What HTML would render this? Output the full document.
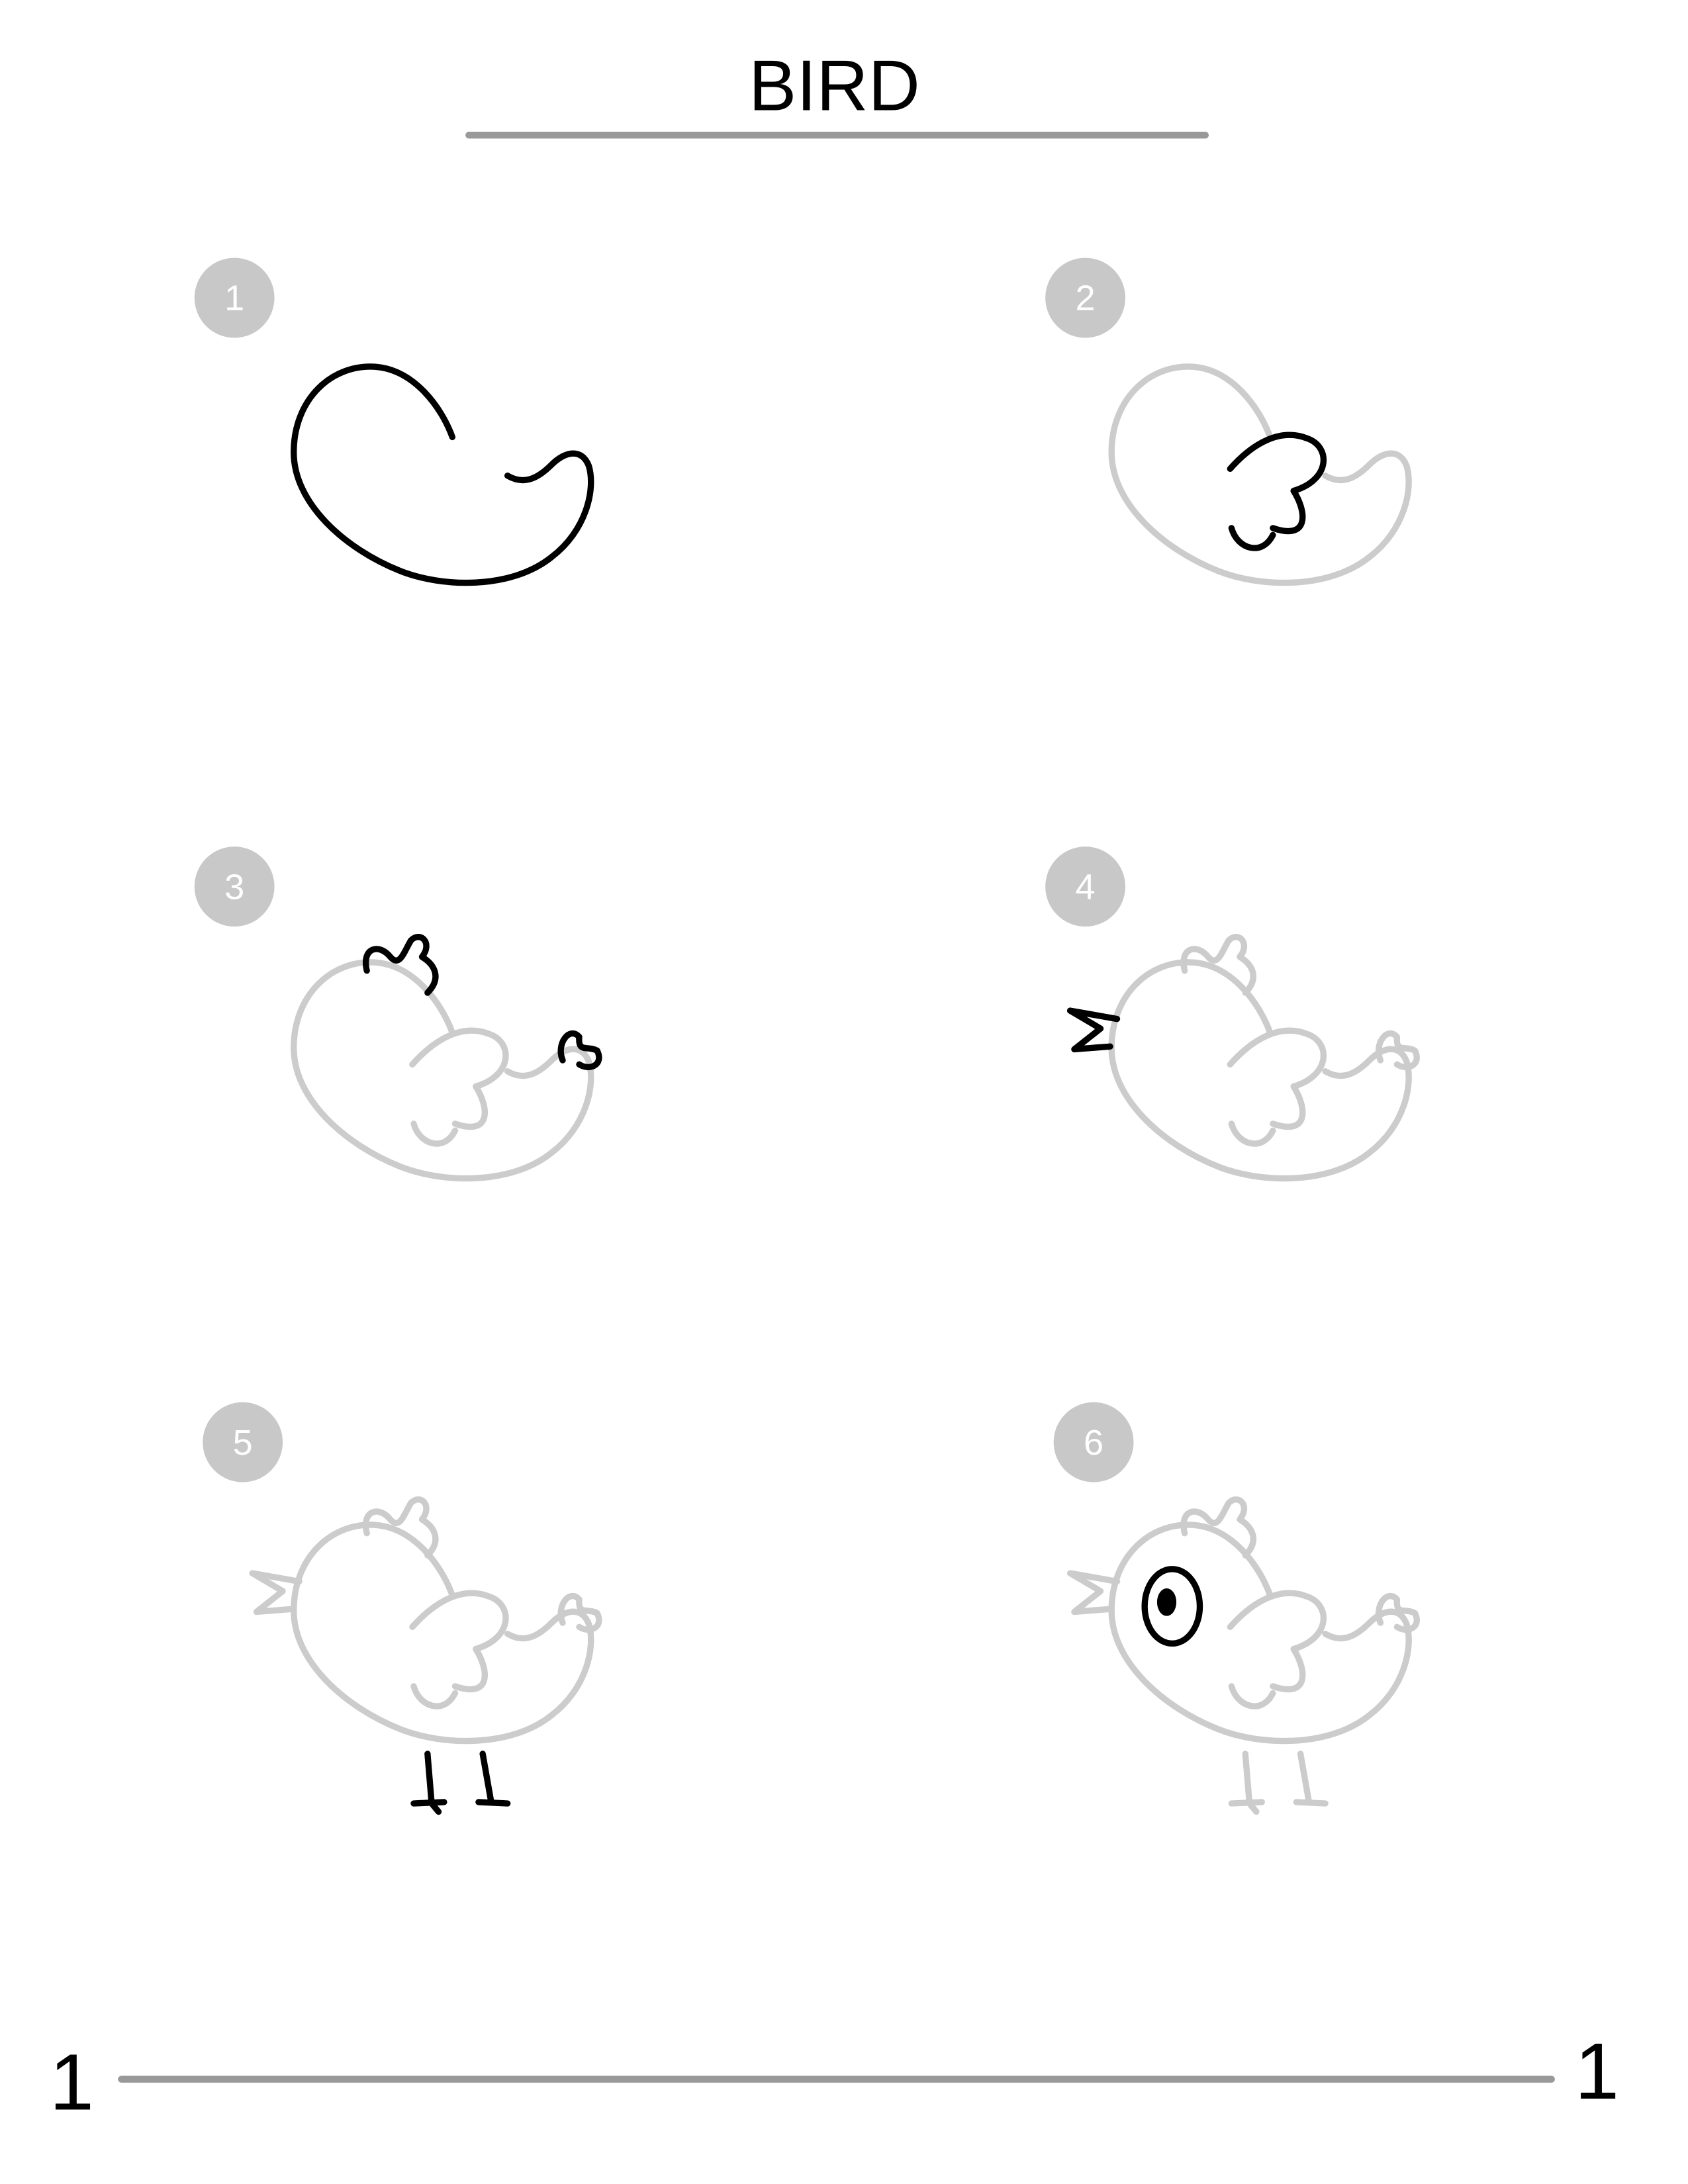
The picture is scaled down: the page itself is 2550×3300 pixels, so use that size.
<!DOCTYPE html>
<html><head><meta charset="utf-8"><style>
html,body{margin:0;padding:0;background:#fff;}
svg{display:block;}
</style></head><body>
<svg width="2550" height="3300" viewBox="0 0 1224 1584" xmlns="http://www.w3.org/2000/svg">
<defs>
<path id="body" d="M328,317 C320,295 300,268 272,266 C240,264 213,290 213,328 C213,365 250,398 290,414 C320,426 370,428 400,404 C425,385 432,355 427,338 C422,325 410,327 400,337 C390,347 380,352 368,345"/>
<path id="wing" d="M299,340 C315,322 335,310 355,318 C372,324 372,348 345,356 C355,372 356,392 330,383 M300,383 C304,398 322,404 330,388"/>
<path id="comb" d="M266,272 C262,255 275,252 283,262 C290,270 293,258 298,250 C305,243 314,252 306,262 C316,268 320,278 310,288"/>
<path id="tuft" d="M408,337 C403,325 413,312 420,320 C419,332 426,326 433,330 C438,340 428,345 420,340"/>
<path id="beak" d="M217,307 L183,301 L205,314 L186,329 L212,327"/>
<path id="legs" d="M310,432 L313,468 M350,432 L356,466 M300,468 L322,467 M313,468 L318,474 M347,467 L368,468"/>
</defs>
<text x="605" y="80" text-anchor="middle" font-family="Liberation Sans, sans-serif" font-size="52">BIRD</text>
<line x1="340" y1="98" x2="874" y2="98" stroke="#999" stroke-width="5" stroke-linecap="round"/>

<g fill="none" stroke-width="4.5" stroke-linecap="round" stroke-linejoin="round">
<!-- step 1 -->
<g>
<use href="#body" stroke="#000"/>
</g>
<!-- step 2 -->
<g transform="translate(593,0)">
<use href="#body" stroke="#ccc"/><use href="#wing" stroke="#000"/>
</g>
<!-- step 3 -->
<g transform="translate(0,432)">
<use href="#body" stroke="#ccc"/><use href="#wing" stroke="#ccc"/>
<use href="#comb" stroke="#000"/><use href="#tuft" stroke="#000"/>
</g>
<!-- step 4 -->
<g transform="translate(593,432)">
<use href="#body" stroke="#ccc"/><use href="#wing" stroke="#ccc"/>
<use href="#comb" stroke="#ccc"/><use href="#tuft" stroke="#ccc"/>
<use href="#beak" stroke="#000"/>
</g>
<!-- step 5 -->
<g transform="translate(0,840)">
<use href="#body" stroke="#ccc"/><use href="#wing" stroke="#ccc"/>
<use href="#comb" stroke="#ccc"/><use href="#tuft" stroke="#ccc"/>
<use href="#beak" stroke="#ccc"/><use href="#legs" stroke="#000"/>
</g>
<!-- step 6 -->
<g transform="translate(593,840)">
<use href="#body" stroke="#ccc"/><use href="#wing" stroke="#ccc"/>
<use href="#comb" stroke="#ccc"/><use href="#tuft" stroke="#ccc"/>
<use href="#beak" stroke="#ccc"/><use href="#legs" stroke="#ccc"/>
<ellipse cx="257" cy="325" rx="20" ry="27" stroke="#000"/>
<ellipse cx="253" cy="322" rx="7" ry="10" fill="#000" stroke="none"/>
</g>
</g>

<g font-family="Liberation Sans, sans-serif" font-size="26" fill="#fff" text-anchor="middle">
<g><circle cx="170" cy="216" r="29" fill="#c8c8c8"/><text x="170" y="225">1</text></g>
<g><circle cx="787" cy="216" r="29" fill="#c8c8c8"/><text x="787" y="225">2</text></g>
<g><circle cx="170" cy="643" r="29" fill="#c8c8c8"/><text x="170" y="652">3</text></g>
<g><circle cx="787" cy="643" r="29" fill="#c8c8c8"/><text x="787" y="652">4</text></g>
<g><circle cx="176" cy="1046" r="29" fill="#c8c8c8"/><text x="176" y="1055">5</text></g>
<g><circle cx="793" cy="1046" r="29" fill="#c8c8c8"/><text x="793" y="1055">6</text></g>
</g>

<text x="52" y="1530" text-anchor="middle" font-family="Liberation Sans, sans-serif" font-size="58">1</text>
<line x1="88" y1="1508" x2="1125" y2="1508" stroke="#999" stroke-width="5" stroke-linecap="round"/>
<text x="1158" y="1522" text-anchor="middle" font-family="Liberation Sans, sans-serif" font-size="58">1</text>
</svg>
</body></html>
